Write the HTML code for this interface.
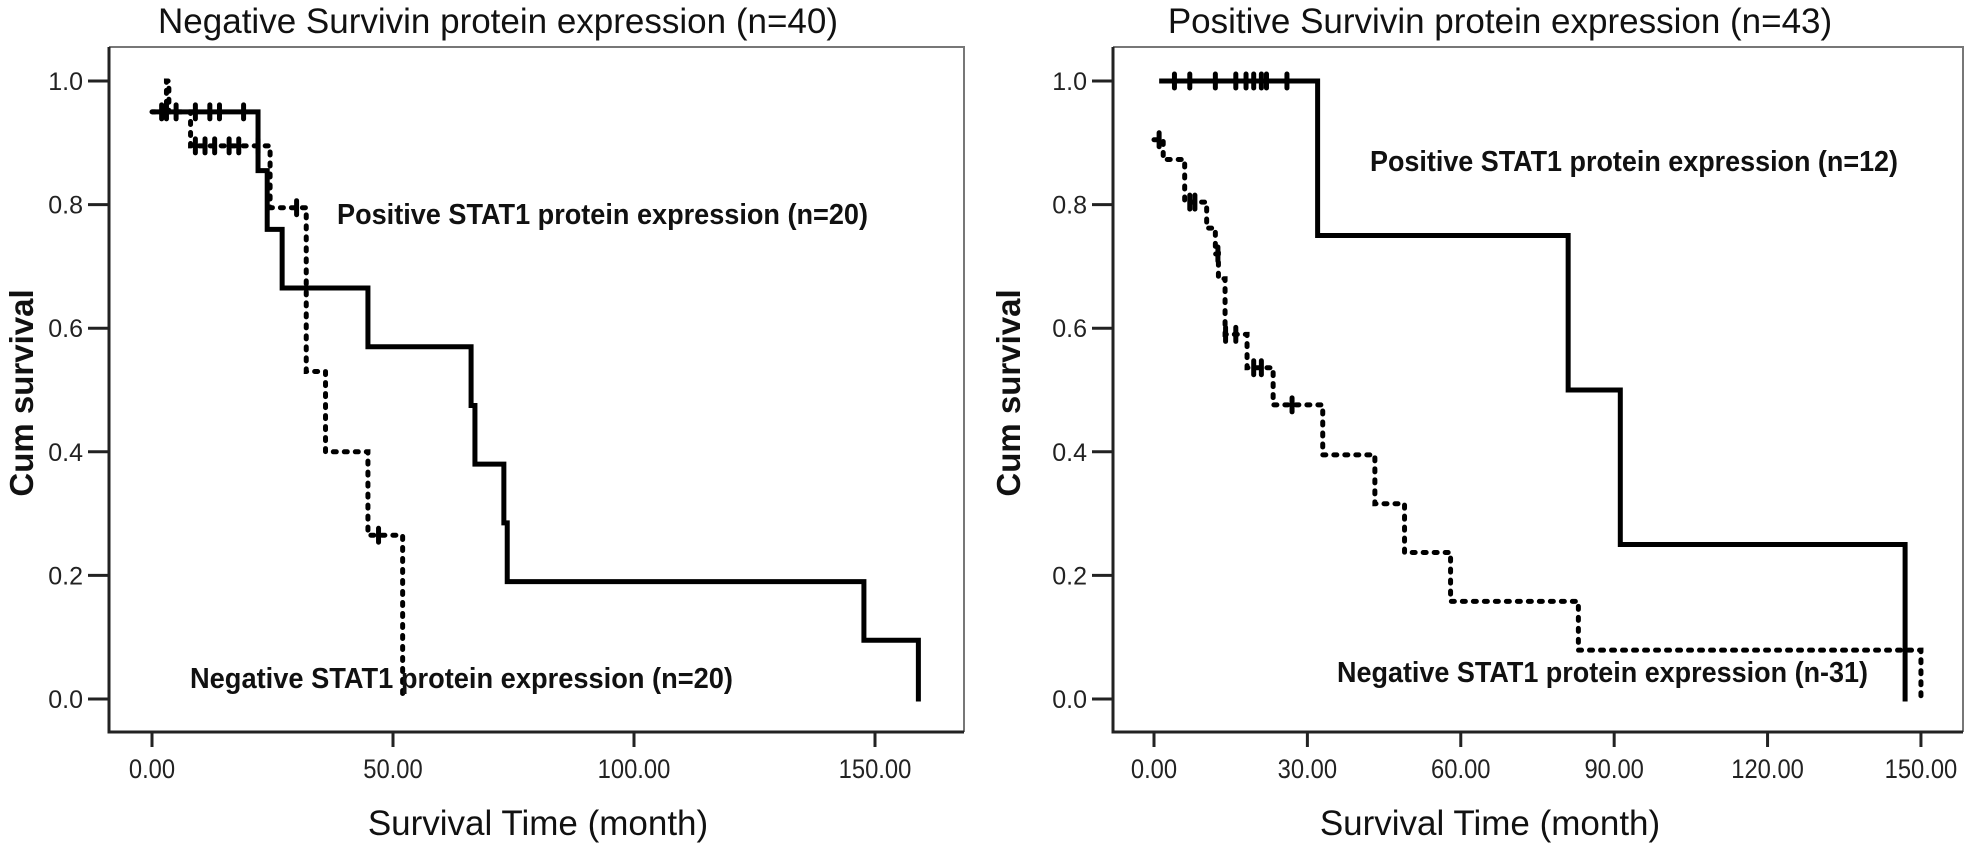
<!DOCTYPE html>
<html><head><meta charset="utf-8"><style>
html,body{margin:0;padding:0;background:#fff;}
svg{display:block;font-family:"Liberation Sans",sans-serif;}
</style></head><body>
<svg id="fig" width="1978" height="858" viewBox="0 0 1978 858">
<g id="left"></g>
<g id="right"></g>
</svg>
<script>
// ---- Left panel data (Negative Survivin) ----
const leftTicksX = [0, 50, 100, 150];
const leftTickLabelsX = ["0.00", "50.00", "100.00", "150.00"];
const leftPosTimes = [1, 22, 23.9, 27, 44.8, 66.2, 67, 73, 73.7, 147.7, 159];
const leftPosSurv  = [0.95, 0.855, 0.76, 0.665, 0.57, 0.475, 0.38, 0.285, 0.19, 0.095, 0];
const leftPosCensor = [2, 3, 5, 9, 12, 14, 19];
const leftNegTimes = [3, 3.5, 8, 24.5, 32, 36, 44.8, 52];
const leftNegSurv  = [1.0, 0.95, 0.895, 0.795, 0.53, 0.40, 0.265, 0];
const leftNegCensor = [9, 11, 13, 16, 18, 22, 30, 47];
// ---- Right panel data (Positive Survivin) ----
const rightTicksX = [0, 30, 60, 90, 120, 150];
const rightTickLabelsX = ["0.00", "30.00", "60.00", "90.00", "120.00", "150.00"];
const rightPosTimes = [1.5, 32, 81, 91.2, 146.9];
const rightPosSurv  = [1.0, 0.75, 0.5, 0.25, 0];
const rightPosCensor = [4, 7, 12, 16, 18, 19.5, 21, 22, 26];
const rightNegTimes = [0, 1.8, 6, 10.3, 12, 12.6, 13.9, 18.2, 23.3, 33, 43.2, 49, 58, 83, 150];
const rightNegSurv  = [0.905, 0.873, 0.804, 0.762, 0.72, 0.68, 0.59, 0.536, 0.476, 0.395, 0.316, 0.237, 0.158, 0.079, 0];
const rightNegCensor = [1, 7, 8, 12.5, 14, 16, 19.5, 21, 27];
const yTicks = [0, 0.2, 0.4, 0.6, 0.8, 1.0];
const yTickLabels = ["0.0", "0.2", "0.4", "0.6", "0.8", "1.0"];

const NS = "http://www.w3.org/2000/svg";
function mk(parent, tag, attrs, text){
  const e = document.createElementNS(NS, tag);
  for (const k in attrs) e.setAttribute(k, attrs[k]);
  if (text !== undefined) e.textContent = text;
  parent.appendChild(e);
  return e;
}
const yScale = v => 699 - 618 * v;

function panel(g, cfg){
  const xs = t => cfg.x0 + cfg.k * t;
  const fr = mk(g, "path", {d:`M${cfg.fl},47 H${cfg.fr} V732`, fill:"none", stroke:"#777", "stroke-width":2});
  
  
  const ax = mk(g, "path", {d:`M${cfg.fl},47 V732 H${cfg.fr}`, fill:"none", stroke:"#222", "stroke-width":3});
  
  
  yTicks.forEach((v,i)=>{
    const y = yScale(v);
    const t = mk(g, "line", {x1:cfg.fl-21, x2:cfg.fl, y1:y, y2:y, stroke:"#222", "stroke-width":3});
    
    
    const l = mk(g, "text", {x:cfg.fl-26, y:y+9, "text-anchor":"end", "font-size":25, fill:"#222"}, yTickLabels[i]);
    
    
  });
  cfg.ticks.forEach((v,i)=>{
    const x = xs(v);
    const t = mk(g, "line", {x1:x, x2:x, y1:732, y2:747, stroke:"#222", "stroke-width":3});
    
    
    const l = mk(g, "text", {x:x, y:778, "text-anchor":"middle", "font-size":27, fill:"#222", transform:`translate(${x},0) scale(0.88,1) translate(${-x},0)`}, cfg.tickLabels[i]);
    
    
  });
  function curve(times, surv, start, dashed, name){
    let d = `M${xs(start[0])},${yScale(start[1])}`;
    times.forEach((t,i)=>{ d += ` H${xs(t)} V${yScale(surv[i])}`; });
    const p = mk(g, "path", {d:d, fill:"none", stroke:"#000", "stroke-width":5,
      "stroke-dasharray": dashed ? "3,8" : "none", "stroke-linecap": dashed ? "round":"square"});
    
    
  }
  function censor(list, times, surv, startV, name){
    list.forEach(t=>{
      let v = startV;
      times.forEach((tt,i)=>{ if (t >= tt) v = surv[i]; });
      const y = yScale(v), x = xs(t);
      const c = mk(g, "line", {x1:x, x2:x, y1:y-7, y2:y+7, stroke:"#000", "stroke-width":5, "stroke-linecap":"round"});
      
      
    });
  }
  curve(cfg.negT, cfg.negS, cfg.negStart, true, "negative-stat1-curve");
  curve(cfg.posT, cfg.posS, cfg.posStart, false, "positive-stat1-curve");
  censor(cfg.negC, cfg.negT, cfg.negS, cfg.negStart[1], "negative-censor-mark");
  censor(cfg.posC, cfg.posT, cfg.posS, cfg.posStart[1], "positive-censor-mark");
  const ti = mk(g, "text", {x:cfg.titleX, y:33, "text-anchor":"middle", "font-size":35, fill:"#111"}, cfg.title);
  
  
  const xt = mk(g, "text", {x:cfg.xtX, y:835, "text-anchor":"middle", "font-size":35, fill:"#111"}, "Survival Time (month)");
  
  
  const yt = mk(g, "text", {x:0, y:0, "text-anchor":"middle", "font-size":33, "font-weight":"bold", fill:"#111", transform:`translate(${cfg.ytX},393) rotate(-90)`}, "Cum survival");
  
  
  const pl = mk(g, "text", {x:cfg.posLab[0], y:cfg.posLab[1], "font-size":29, "font-weight":"bold", fill:"#111", textLength:cfg.posLab[2], lengthAdjust:"spacingAndGlyphs"}, cfg.posText);
  
  
  const nl = mk(g, "text", {x:cfg.negLab[0], y:cfg.negLab[1], "font-size":29, "font-weight":"bold", fill:"#111", textLength:cfg.negLab[2], lengthAdjust:"spacingAndGlyphs"}, cfg.negText);
  
  
}

panel(document.getElementById("left"), {
  fl:109, fr:964, x0:152, k:4.82, ticks:leftTicksX, tickLabels:leftTickLabelsX,
  posT:leftPosTimes, posS:leftPosSurv, posStart:[0.5,0.95], posC:leftPosCensor,
  negT:leftNegTimes, negS:leftNegSurv, negStart:[0,0.95], negC:leftNegCensor,
  title:"Negative Survivin protein expression  (n=40)", titleX:498, xtX:538, ytX:33,
  posLab:[337,224,531], posText:"Positive STAT1 protein expression (n=20)",
  negLab:[190,688,543], negText:"Negative STAT1 protein expression (n=20)"
});
panel(document.getElementById("right"), {
  fl:1113, fr:1963, x0:1154, k:5.113, ticks:rightTicksX, tickLabels:rightTickLabelsX,
  posT:rightPosTimes, posS:rightPosSurv, posStart:[1.5,1.0], posC:rightPosCensor,
  negT:rightNegTimes, negS:rightNegSurv, negStart:[0,0.905], negC:rightNegCensor,
  title:"Positive Survivin protein expression  (n=43)", titleX:1500, xtX:1490, ytX:1020,
  posLab:[1370,171,528], posText:"Positive STAT1 protein expression (n=12)",
  negLab:[1337,682,531], negText:"Negative STAT1 protein expression (n-31)"
});
</script>
</body></html>
